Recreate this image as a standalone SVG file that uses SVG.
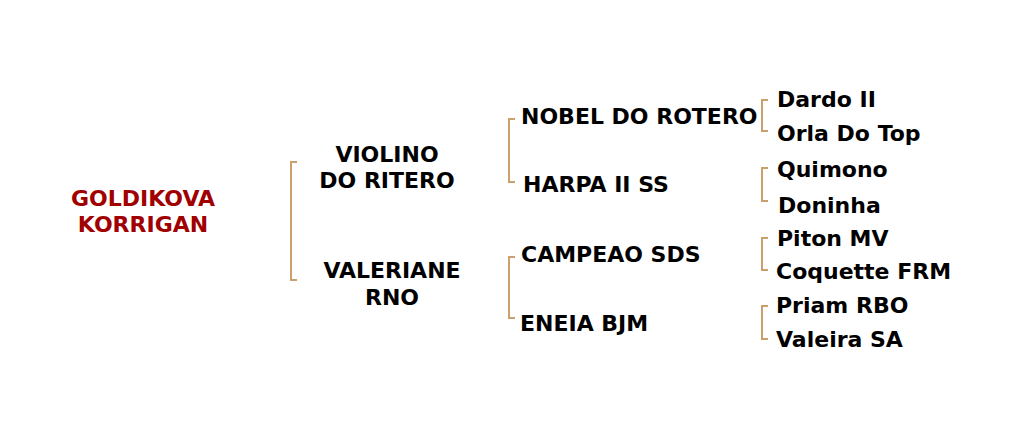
<svg xmlns="http://www.w3.org/2000/svg" width="1024" height="435" viewBox="0 0 1024 435">
<style>
text{font-family:"DejaVu Sans",Verdana,sans-serif;font-weight:bold;font-size:22px;fill:#000}
.root{fill:#a00000;text-anchor:middle}
.mid{text-anchor:middle}
.br{fill:none;stroke:#c9a06e;stroke-width:2}
</style>
<rect width="1024" height="435" fill="#fff"/>
<g id="connectors">
<path class="br" d="M297,162 H291 V280 H297"/>
<path class="br" d="M515,119 H509 V182 H515"/>
<path class="br" d="M515,257 H509 V318 H515"/>
<path class="br" d="M768,100 H762 V131 H768"/>
<path class="br" d="M768,168 H762 V201 H768"/>
<path class="br" d="M768,238 H762 V270 H768"/>
<path class="br" d="M768,306 H762 V339 H768"/>
</g>
<g id="n-goldikova"><text class="root" x="143" y="206">GOLDIKOVA</text><text class="root" x="143" y="232">KORRIGAN</text></g>
<g id="n-violino"><text class="mid" x="387" y="162">VIOLINO</text><text class="mid" x="387" y="188">DO RITERO</text></g>
<g id="n-valeriane"><text class="mid" x="392" y="278">VALERIANE</text><text class="mid" x="392" y="305">RNO</text></g>
<g id="n-nobel"><text x="521" y="124">NOBEL DO ROTERO</text></g>
<g id="n-harpa"><text x="523" y="192">HARPA II SS</text></g>
<g id="n-campeao"><text x="521" y="262">CAMPEAO SDS</text></g>
<g id="n-eneia"><text x="520" y="331">ENEIA BJM</text></g>
<g id="n-dardo"><text x="777" y="107">Dardo II</text></g>
<g id="n-orla"><text x="777" y="141">Orla Do Top</text></g>
<g id="n-quimono"><text x="777" y="177">Quimono</text></g>
<g id="n-doninha"><text x="778" y="213">Doninha</text></g>
<g id="n-piton"><text x="777" y="246">Piton MV</text></g>
<g id="n-coquette"><text x="776" y="279">Coquette FRM</text></g>
<g id="n-priam"><text x="776" y="313">Priam RBO</text></g>
<g id="n-valeira"><text x="776" y="347">Valeira SA</text></g>
</svg>
